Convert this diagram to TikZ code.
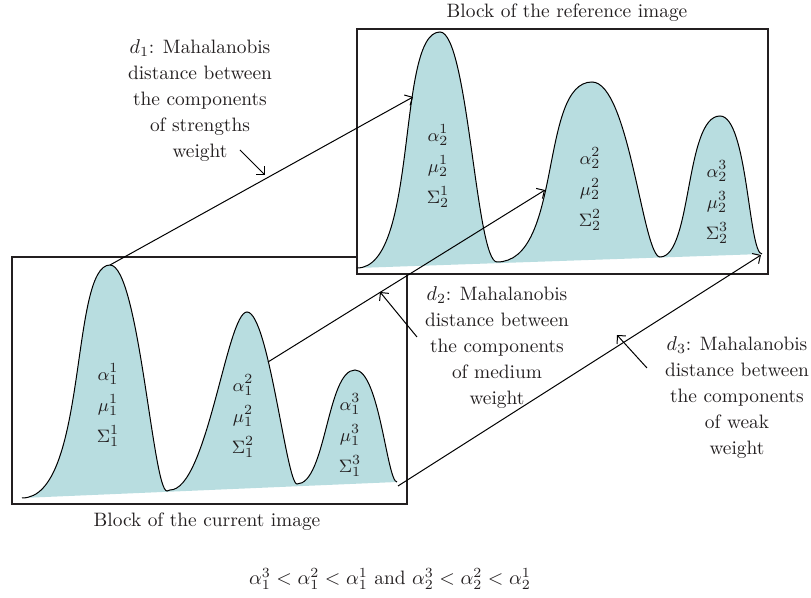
\documentclass[tikz,border=0pt]{standalone}
\usepackage{xcolor}
\usetikzlibrary{arrows.meta, calc}
\definecolor{humpfill}{RGB}{184,221,224}
\definecolor{ink}{RGB}{35,31,32}

\begin{document}
\begin{tikzpicture}[
    x=0.5pt, y=-0.5pt,
    txt/.style={font={\fontsize{9.7}{13}\selectfont}, text=ink, align=center, inner sep=0pt},
    stack/.style={font={\fontsize{9.5}{15.5}\selectfont}, text=ink, align=center, inner sep=0pt},
    block/.style={draw=ink, line width=0.65pt},
    hump/.style={fill=humpfill},
    curve/.style={draw=black, line width=0.5pt},
    link/.style={draw=black, line width=0.5pt, -{Straight Barb[length=3pt, width=6pt]}},
]
\useasboundingbox (0,0) rectangle (811,598);

\draw[block] (12,257) rectangle (407,504);
\draw[block, fill=white] (357,29) rectangle (768,274);

% current image
\fill[hump] (22,498) .. controls (88,498) and (70,265) .. (110,265)
   .. controls (138.6,265) and (153,491) .. (167,491) -- (170,490)
   .. controls (207,490) and (227,312) .. (247,312)
   .. controls (268.4,312) and (286.5,484) .. (297,484)
   .. controls (326,484) and (327,370) .. (355,370)
   .. controls (379.3,370) and (387.1,482) .. (397,482) -- cycle;
\draw[curve] (22,498) .. controls (88,498) and (70,265) .. (110,265)
   .. controls (138.6,265) and (153,491) .. (167,491) -- (170,490)
   .. controls (207,490) and (227,312) .. (247,312)
   .. controls (268.4,312) and (286.5,484) .. (297,484)
   .. controls (326,484) and (327,370) .. (355,370)
   .. controls (379.3,370) and (387.1,482) .. (397,482);

% reference image
\fill[hump] (357,268) .. controls (419,268) and (396,32) .. (440,32)
   .. controls (468,32) and (476,262) .. (497,262)
   .. controls (563,262) and (539,82) .. (592,82)
   .. controls (629,82) and (643,257) .. (660,257)
   .. controls (692,257) and (685,116) .. (720,116)
   .. controls (747.6,116) and (748.5,254) .. (762,254) -- cycle;
\draw[curve] (357,268) .. controls (419,268) and (396,32) .. (440,32)
   .. controls (468,32) and (476,262) .. (497,262)
   .. controls (563,262) and (539,82) .. (592,82)
   .. controls (629,82) and (643,257) .. (660,257)
   .. controls (692,257) and (685,116) .. (720,116)
   .. controls (747.6,116) and (748.5,254) .. (762,254);

\node[stack] (s11) at (108,405) {$\alpha_1^1$\\$\mu_1^1$\\$\Sigma_1^1$};
\node[stack] (s12) at (243,416) {$\alpha_1^2$\\$\mu_1^2$\\$\Sigma_1^2$};
\node[stack] (s13) at (350,435) {$\alpha_1^3$\\$\mu_1^3$\\$\Sigma_1^3$};
\node[stack] (s21) at (438,166) {$\alpha_2^1$\\$\mu_2^1$\\$\Sigma_2^1$};
\node[stack] (s22) at (590,189) {$\alpha_2^2$\\$\mu_2^2$\\$\Sigma_2^2$};
\node[stack] (s23) at (717,202) {$\alpha_2^3$\\$\mu_2^3$\\$\Sigma_2^3$};

\coordinate (a1) at (110,265);
\coordinate (b1) at (413,97);
\coordinate (a2) at (268,362);
\coordinate (b2) at (545,190);
\coordinate (a3) at (398,486);
\coordinate (b3) at (761,255);
\draw[link] (a1) -- (b1);
\draw[link] (a2) -- (b2);
\draw[link] (a3) -- (b3);

\node[txt] (reftitle) at (567,13) {Block of the reference image};
\node[txt] (curtitle) at (207,522) {Block of the current image};
\node[txt] (lab1) at (200,101) {$d_1$: Mahalanobis\\distance between\\the components\\of strengths\\weight};
\node[txt] (lab2) at (497,348) {$d_2$: Mahalanobis\\distance between\\the components\\of medium\\weight};
\node[txt] (lab3) at (737,398) {$d_3$: Mahalanobis\\distance between\\the components\\of weak\\weight};
\node[txt] (order) at (390,579) {$\alpha_1^3<\alpha_1^2<\alpha_1^1$ and $\alpha_2^3<\alpha_2^2<\alpha_2^1$};

\coordinate (n1) at (240,150);
\coordinate (t1) at (265,175);
\coordinate (n2) at (417,337);
\coordinate (t2) at (380,292);
\coordinate (n3) at (647,368);
\coordinate (t3) at (617,335);
\draw[link] (n1) -- (t1);
\draw[link] (n2) -- (t2);
\draw[link] (n3) -- (t3);
\end{tikzpicture}
\end{document}
